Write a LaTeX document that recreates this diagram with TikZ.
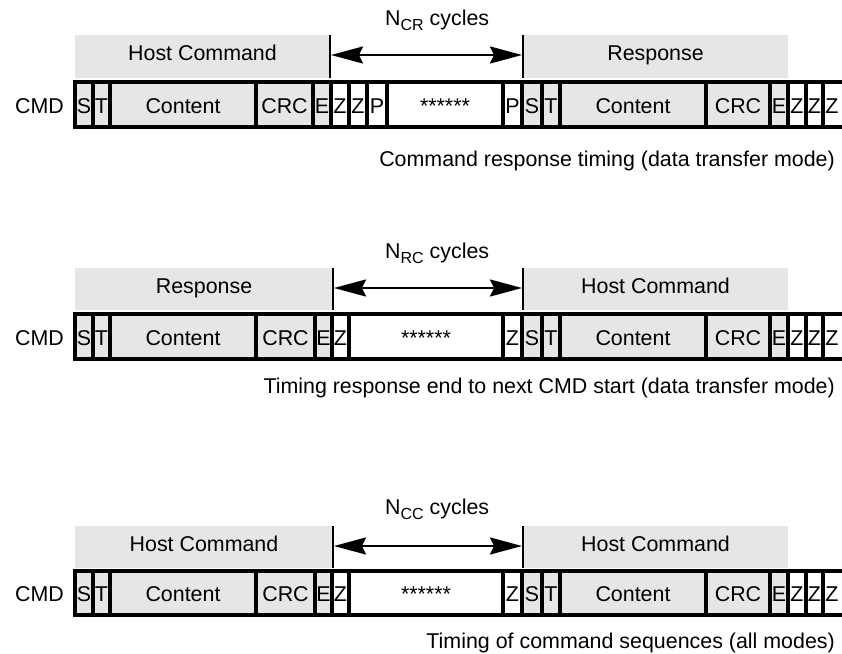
\documentclass[tikz,border=0pt]{standalone}
\usepackage{fontspec}
\setmainfont{Liberation Sans}
\usetikzlibrary{arrows.meta}
\definecolor{cellgray}{RGB}{230,230,230}
\tikzset{
  rowline/.style={line width=3.2pt},
  markline/.style={line width=2.5pt},
  spanarrow/.style={line width=2.2pt,
    {Stealth[length=32pt,width=17pt,inset=4pt]}-{Stealth[length=32pt,width=17pt,inset=4pt]}},
  txt/.style={font=\fontsize{21.4}{25}\selectfont, inner sep=0pt, anchor=base},
  captxt/.style={txt, anchor=base east},
  cyctxt/.style={txt, anchor=base west},
}
\newcommand{\timingrow}[5]{%
  \foreach \xa/\xb/\fc/\lab [count=\i] in {#5} {
    \fill[\fc] (\xa,#2) rectangle (\xb,#3);
    \node[txt] (#1-\i) at ({(\xa+\xb)/2},#4) {\lab};
    \draw[rowline] (\xa,#2) -- (\xa,#3);
  }
  \draw[rowline] (73.4,#2) -- (842,#2);
  \draw[rowline] (73.4,#3) -- (842,#3);
}
\newcommand{\cycl}[1]{N\raisebox{-5pt}{\fontsize{16}{16}\selectfont #1} cycles}
\begin{document}
\begin{tikzpicture}[x=1pt,y=-1pt]
\useasboundingbox (0,0) rectangle (842,653);

% ---------- Row 1 ----------
\node[cyctxt] (n1) at (385,25) {\cycl{CR}};
\fill[cellgray] (75,35) rectangle (330,78);
\node[txt] (b1l) at (202.5,60) {Host Command};
\fill[cellgray] (523,35) rectangle (788,78);
\node[txt] (b1r) at (655.5,60) {Response};
\draw[markline] (330,35) -- (330,78);
\draw[markline] (523,35) -- (523,78);
\coordinate (a1l) at (331,55);
\coordinate (a1r) at (522,55);
\draw[spanarrow] (a1l) -- (a1r);
\node[txt, anchor=base west] (cmd1) at (15,113) {CMD};
\timingrow{r1}{82}{127}{113}{75/93/cellgray/S, 93/110/cellgray/T, 110/256/cellgray/Content, 256/313/cellgray/CRC, 313/331/cellgray/E, 331/349/white/Z, 349/367/white/Z, 367/387/white/P, 387/503/white/******, 503/522/white/P, 522/542/cellgray/S, 542/560/cellgray/T, 560/706/cellgray/Content, 706/770/cellgray/CRC, 770/788/cellgray/E, 788/806/white/Z, 806/823/white/Z, 823/841/white/Z}
\node[captxt] (c1) at (835,166) {Command response timing (data transfer mode)};

% ---------- Row 2 ----------
\node[cyctxt] (n2) at (385,258) {\cycl{RC}};
\fill[cellgray] (75,268) rectangle (333,310);
\node[txt] (b2l) at (204,293) {Response};
\fill[cellgray] (523,268) rectangle (788,310);
\node[txt] (b2r) at (655.5,293) {Host Command};
\draw[markline] (333,268) -- (333,310);
\draw[markline] (523,268) -- (523,310);
\coordinate (a2l) at (334,288);
\coordinate (a2r) at (522,288);
\draw[spanarrow] (a2l) -- (a2r);
\node[txt, anchor=base west] (cmd2) at (15,345) {CMD};
\timingrow{r2}{314}{359}{345}{75/93/cellgray/S, 93/110/cellgray/T, 110/256/cellgray/Content, 256/315/cellgray/CRC, 315/332/cellgray/E, 332/349/white/Z, 349/503/white/******, 503/522/white/Z, 522/542/cellgray/S, 542/560/cellgray/T, 560/706/cellgray/Content, 706/770/cellgray/CRC, 770/788/cellgray/E, 788/806/white/Z, 806/823/white/Z, 823/841/white/Z}
\node[captxt] (c2) at (835,393) {Timing response end to next CMD start (data transfer mode)};

% ---------- Row 3 ----------
\node[cyctxt] (n3) at (385,514) {\cycl{CC}};
\fill[cellgray] (75,526) rectangle (333,568);
\node[txt] (b3l) at (204,551) {Host Command};
\fill[cellgray] (523,526) rectangle (788,568);
\node[txt] (b3r) at (655.5,551) {Host Command};
\draw[markline] (333,526) -- (333,568);
\draw[markline] (523,526) -- (523,568);
\coordinate (a3l) at (334,546);
\coordinate (a3r) at (522,546);
\draw[spanarrow] (a3l) -- (a3r);
\node[txt, anchor=base west] (cmd3) at (15,601) {CMD};
\timingrow{r3}{571}{615}{601}{75/93/cellgray/S, 93/110/cellgray/T, 110/256/cellgray/Content, 256/315/cellgray/CRC, 315/332/cellgray/E, 332/349/white/Z, 349/503/white/******, 503/522/white/Z, 522/542/cellgray/S, 542/560/cellgray/T, 560/706/cellgray/Content, 706/770/cellgray/CRC, 770/788/cellgray/E, 788/806/white/Z, 806/823/white/Z, 823/841/white/Z}
\node[captxt] (c3) at (835,648) {Timing of command sequences (all modes)};
\end{tikzpicture}
\end{document}
